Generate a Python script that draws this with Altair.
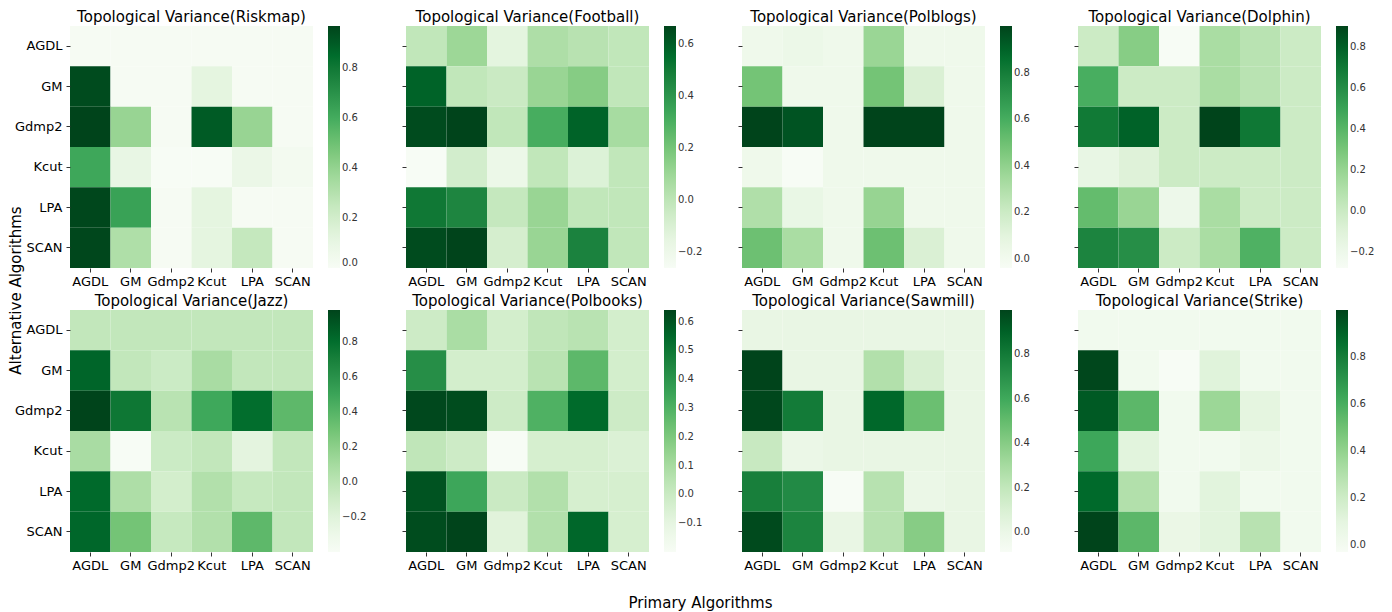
import altair as alt
import pandas as pd

algorithms = ["AGDL", "GM", "Gdmp2", "Kcut", "LPA", "SCAN"]
datasets = ["Riskmap", "Football", "Polblogs", "Dolphin", "Jazz", "Polbooks", "Sawmill", "Strike"]

# rows: alternative algorithm (AGDL..SCAN); columns: primary algorithm (AGDL..SCAN)
riskmap = [
    [0.01, 0.01, 0.01, 0.01, 0.01, 0.01],
    [0.95, 0.01, 0.01, 0.12, 0.01, 0.01],
    [0.97, 0.39, 0.01, 0.90, 0.39, 0.01],
    [0.62, 0.10, 0.00, 0.00, 0.08, 0.03],
    [0.96, 0.64, 0.01, 0.12, 0.01, 0.01],
    [0.96, 0.32, 0.01, 0.12, 0.25, 0.01],
]
football = [
    [-0.01, 0.10, -0.14, 0.05, 0.02, -0.01],
    [0.58, -0.01, -0.04, 0.11, 0.16, -0.01],
    [0.65, 0.67, -0.01, 0.31, 0.58, 0.07],
    [-0.26, -0.07, -0.19, -0.01, -0.11, -0.01],
    [0.51, 0.46, -0.02, 0.11, -0.01, -0.01],
    [0.65, 0.67, -0.08, 0.11, 0.47, -0.01],
]
polblogs = [
    [0.02, 0.04, 0.02, 0.37, 0.02, 0.02],
    [0.48, 0.02, 0.02, 0.48, 0.14, 0.02],
    [1.00, 0.95, 0.02, 1.00, 1.00, 0.02],
    [0.02, -0.04, 0.02, 0.02, 0.02, 0.02],
    [0.30, 0.06, 0.02, 0.38, 0.02, 0.02],
    [0.50, 0.32, 0.02, 0.50, 0.14, 0.02],
]
dolphin = [
    [-0.01, 0.25, -0.28, 0.13, 0.07, -0.01],
    [0.44, -0.01, -0.01, 0.13, 0.07, -0.01],
    [0.69, 0.79, -0.01, 0.90, 0.70, -0.01],
    [-0.16, -0.10, -0.01, -0.01, -0.01, -0.01],
    [0.36, 0.19, -0.20, 0.13, -0.01, -0.01],
    [0.64, 0.59, -0.01, 0.13, 0.42, -0.01],
]
jazz = [
    [-0.03, -0.03, -0.03, -0.03, -0.03, -0.03],
    [0.84, -0.03, -0.08, 0.08, -0.03, -0.03],
    [0.98, 0.75, 0.01, 0.48, 0.80, 0.37],
    [0.08, -0.40, -0.08, -0.03, -0.22, -0.03],
    [0.82, 0.06, -0.12, 0.04, -0.05, -0.03],
    [0.83, 0.29, -0.05, 0.04, 0.37, -0.03],
]
polbooks = [
    [-0.01, 0.09, -0.03, 0.03, 0.05, -0.03],
    [0.42, -0.03, -0.03, 0.05, 0.27, -0.03],
    [0.63, 0.62, -0.01, 0.30, 0.54, -0.01],
    [0.03, -0.01, -0.20, -0.04, -0.04, -0.06],
    [0.60, 0.34, 0.00, 0.07, -0.04, -0.04],
    [0.62, 0.64, -0.08, 0.07, 0.55, -0.04],
]
sawmill = [
    [0.02, 0.02, 0.02, 0.02, 0.02, 0.02],
    [1.00, 0.02, 0.02, 0.26, 0.11, 0.02],
    [0.99, 0.80, 0.02, 0.88, 0.48, 0.02],
    [0.18, 0.00, 0.02, 0.02, 0.02, 0.02],
    [0.78, 0.73, -0.09, 0.24, 0.00, 0.02],
    [0.98, 0.76, 0.02, 0.24, 0.40, 0.02],
]
strike = [
    [0.01, 0.01, 0.01, 0.01, 0.01, 0.01],
    [0.99, 0.01, -0.03, 0.12, 0.01, 0.01],
    [0.93, 0.55, 0.01, 0.37, 0.10, 0.01],
    [0.63, 0.11, 0.01, 0.01, 0.05, 0.01],
    [0.88, 0.30, 0.01, 0.11, 0.01, 0.01],
    [1.00, 0.55, 0.06, 0.11, 0.28, 0.01],
]
legend_ticks = [
    [0.0, 0.2, 0.4, 0.6, 0.8],
    [-0.2, 0.0, 0.2, 0.4, 0.6],
    [0.0, 0.2, 0.4, 0.6, 0.8],
    [-0.2, 0.0, 0.2, 0.4, 0.6, 0.8],
    [-0.2, 0.0, 0.2, 0.4, 0.6, 0.8],
    [-0.1, 0.0, 0.1, 0.2, 0.3, 0.4, 0.5, 0.6],
    [0.0, 0.2, 0.4, 0.6, 0.8],
    [0.0, 0.2, 0.4, 0.6, 0.8],
]
matrices = [riskmap, football, polblogs, dolphin, jazz, polbooks, sawmill, strike]

# matplotlib "Greens" colour stops
greens = ["#f7fcf5", "#e5f5e0", "#c7e9c0", "#a1d99b", "#74c476",
          "#41ab5d", "#238b45", "#006d2c", "#00441b"]

FONT = "DejaVu Sans"


def panel(k, name, mat, ticks):
    rows = []
    for i, alt_alg in enumerate(algorithms):
        for j, prim in enumerate(algorithms):
            rows.append({"Primary": prim, "Alternative": alt_alg, "value": mat[i][j]})
    df = pd.DataFrame(rows)
    vmin = float(df["value"].min())
    vmax = float(df["value"].max())
    stops = [vmin + (vmax - vmin) * s / (len(greens) - 1) for s in range(len(greens))]

    x_axis = dict(labelAngle=0, labelFontSize=13, labelColor="black", tickSize=4,
                  tickColor="#333", domain=False, labelPadding=3)
    y_axis = dict(labels=(k % 4 == 0), labelFontSize=13, labelColor="black", tickSize=4,
                  tickColor="#333", domain=False, labelPadding=4)
    x_title = None
    y_title = None
    if k == 5:
        x_title = "Primary Algorithms"
        x_axis.update(titleX=294, titleY=50, titleAlign="center", titleBaseline="middle",
                      titleFontSize=15, titleFontWeight="normal", titleColor="black")
    if k == 0:
        y_title = "Alternative Algorithms"
        y_axis.update(titleX=-55, titleY=264, titleAlign="center", titleBaseline="middle",
                      titleFontSize=15, titleFontWeight="normal", titleColor="black", titleAngle=270)

    return (
        alt.Chart(df)
        .mark_rect()
        .encode(
            x=alt.X("Primary:N", sort=algorithms, title=x_title, axis=alt.Axis(**x_axis)),
            y=alt.Y("Alternative:N", sort=algorithms, title=y_title, axis=alt.Axis(**y_axis)),
            color=alt.Color("value:Q", title=None,
                            scale=alt.Scale(domain=stops, range=greens, zero=False, nice=False),
                            legend=alt.Legend(values=ticks, format=".1f", gradientLength=242,
                                              gradientThickness=12, offset=15, labelFontSize=10,
                                              labelColor="#333", labelOverlap=False,
                                              gradientStrokeWidth=0)),
        )
        .properties(width=243, height=242,
                    title=alt.TitleParams(f"Topological Variance({name})", fontSize=15,
                                          fontWeight="normal", font=FONT, offset=1, color="black",
                                          frame="group"))
    )


panels = [panel(k, n, m, t) for k, (n, m, t) in enumerate(zip(datasets, matrices, legend_ticks))]
chart = (
    alt.concat(*panels, columns=4, spacing={"row": 42, "column": 93}, bounds="flush")
    .resolve_scale(color="independent")
    .properties(padding={"left": 0, "top": 2, "right": 5, "bottom": 3})
    .configure(font=FONT)
    .configure_view(stroke=None)
    .configure_axis(labelFont=FONT, titleFont=FONT)
    .configure_legend(labelFont=FONT)
)

chart.save("out.html", embed_options={"renderer": "svg", "actions": False})
